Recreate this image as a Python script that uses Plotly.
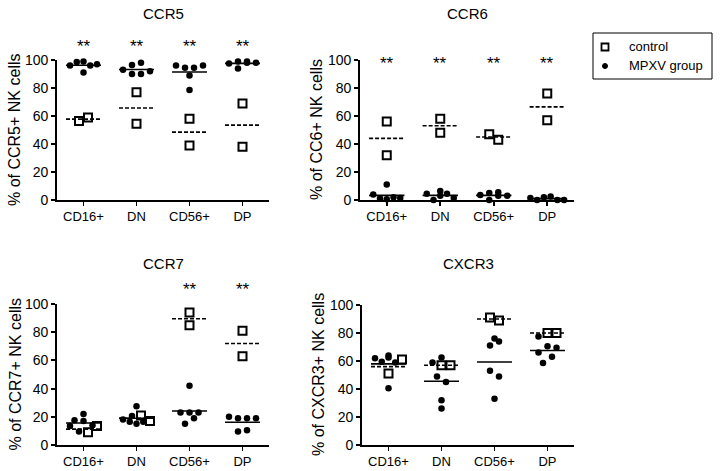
import plotly.graph_objects as go

W, H = 720, 471

# ---------------- data ----------------
categories = ["CD16+", "DN", "CD56+", "DP"]
y_tick_values = [0, 20, 40, 60, 80, 100]
panel_titles = ["CCR5", "CCR6", "CCR7", "CXCR3"]
y_titles = ["% of CCR5+ NK cells", "% of CC6+ NK cells",
            "% of CCR7+ NK cells", "% of CXCR3+ NK cells"]
legend_names = ["control", "MPXV group"]

ccr5_control = [[56.5, 59], [77, 54.5], [58, 39], [69, 38]]
ccr5_mpxv = [[96, 98.5, 99, 91, 96, 97], [96.5, 98, 93, 90, 90, 92],
             [96, 94.5, 94.5, 96, 89, 78.5], [97.5, 99, 94, 98, 99, 98]]

ccr6_control = [[56, 32], [58, 48], [47, 43], [76, 57]]
ccr6_mpxv = [[11, 4, 1, 0.5, 2, 1.5], [4.5, 0, 3, 6.5, 4.5, 1.5],
             [3.5, 5, 0, 5.5, 3, 3], [1.5, 0, 2, 2.5, 0, 0]]

ccr7_control = [[9, 13.5], [21, 17], [94, 85], [81, 63]]
ccr7_mpxv = [[17.5, 17, 22, 14, 13.5, 9.5], [27.5, 20.5, 18, 16.5, 15, 16.5],
             [42, 23, 23, 23, 15, 19], [20, 19, 19, 19, 9.5, 10.5]]

cxcr3_control = [[61, 51], [57, 57], [91, 89], [80, 80]]
cxcr3_mpxv = [[64, 62, 59.5, 62.5, 40.5, 59], [59, 62.5, 49, 45, 32, 26],
              [76, 71, 74, 53, 49, 33], [66, 70.5, 77.5, 58.5, 69.5, 63]]

ccr5_sig = ["**", "**", "**", "**"]
ccr6_sig = ["**", "**", "**", "**"]
ccr7_sig = ["", "", "**", "**"]
cxcr3_sig = ["", "", "", ""]

controls = [ccr5_control, ccr6_control, ccr7_control, cxcr3_control]
mpxvs = [ccr5_mpxv, ccr6_mpxv, ccr7_mpxv, cxcr3_mpxv]
sigs = [ccr5_sig, ccr6_sig, ccr7_sig, cxcr3_sig]

# ---------------- layout geometry (pixels) ----------------
# (x_left, x_right, y_top(=100), y_bottom(=0))
panels_px = [(57, 269, 60, 200), (360, 574, 60, 200),
             (57, 269, 304, 445), (362, 574, 305, 445)]
title_y_px = [14, 14, 263, 263]
ytitle_x_px = [15, 317, 15, 318]
star_y_px = [47, 64, 289, 289]

FONT = "Liberation Sans, Arial, sans-serif"


def px_x(x):
    return x / W


def px_y(y):
    return 1 - y / H


def swarm(groups, px_per_x, px_per_y, step_px=9.0, row_px=7.0):
    pts = []
    for g, vals in enumerate(groups):
        for k, v in enumerate(vals):
            pts.append((v, g, k))
    order = sorted(range(len(pts)), key=lambda i: pts[i][0])
    rows = []
    for i in order:
        if rows and (pts[i][0] - pts[rows[-1][0]][0]) * px_per_y < row_px:
            rows[-1].append(i)
        else:
            rows.append([i])
    offs = {}
    for row in rows:
        row = sorted(row)
        n = len(row)
        step = step_px if n <= 4 else step_px * 0.75
        for j, i in enumerate(row):
            offs[(pts[i][1], pts[i][2])] = (j - (n - 1) / 2) * step / px_per_x
    return [[offs[(g, k)] for k in range(len(vals))] for g, vals in enumerate(groups)]


fig = go.Figure()
annotations = []
shapes = []
HALF = 0.33

for p in range(4):
    xl, xr, yt, yb = panels_px[p]
    ax = "" if p == 0 else str(p + 1)
    px_per_x = (xr - xl) / 4.0
    px_per_y = (yb - yt) / 100.0

    cx, cy, mx, my = [], [], [], []
    lcx, lcy, lmx, lmy = [], [], [], []
    for i, cat in enumerate(categories):
        cvals = controls[p][i]
        mvals = mpxvs[p][i]
        offs = swarm([mvals, cvals], px_per_x, px_per_y)
        for v, o in zip(mvals, offs[0]):
            mx.append(i + o)
            my.append(v)
        for v, o in zip(cvals, offs[1]):
            cx.append(i + o)
            cy.append(v)
        cm = sum(cvals) / len(cvals)
        mm = sum(mvals) / len(mvals)
        lcx += [i - HALF, i + HALF, None]
        lcy += [cm, cm, None]
        lmx += [i - HALF, i + HALF, None]
        lmy += [mm, mm, None]

    fig.add_trace(go.Scatter(
        x=cx, y=cy, mode="markers", name=legend_names[0], showlegend=False,
        marker=dict(symbol="square-open", size=8, color="black",
                    line=dict(width=2, color="black")),
        cliponaxis=False, xaxis="x" + ax, yaxis="y" + ax))
    fig.add_trace(go.Scatter(
        x=mx, y=my, mode="markers", name=legend_names[1], showlegend=False,
        marker=dict(symbol="circle", size=6.5, color="black"),
        cliponaxis=False, xaxis="x" + ax, yaxis="y" + ax))
    fig.add_trace(go.Scatter(
        x=lcx, y=lcy, mode="lines", showlegend=False, hoverinfo="skip",
        line=dict(color="black", width=1.6, dash="4px,2px"),
        cliponaxis=False, xaxis="x" + ax, yaxis="y" + ax))
    fig.add_trace(go.Scatter(
        x=lmx, y=lmy, mode="lines", showlegend=False, hoverinfo="skip",
        line=dict(color="black", width=1.6),
        cliponaxis=False, xaxis="x" + ax, yaxis="y" + ax))

    axis_common = dict(showline=True, linecolor="black", linewidth=1.8,
                       ticks="outside", ticklen=4, tickwidth=1.8, tickcolor="black",
                       showgrid=False, zeroline=False, fixedrange=True,
                       automargin=False)
    fig.layout["xaxis" + ax] = dict(
        domain=[px_x(xl), px_x(xr)], range=[-0.5, 3.5], anchor="y" + ax,
        tickvals=[0, 1, 2, 3], ticktext=categories,
        tickfont=dict(family=FONT, size=13, color="black"), **axis_common)
    fig.layout["yaxis" + ax] = dict(
        domain=[px_y(yb), px_y(yt)], range=[0, 100], anchor="x" + ax,
        tickvals=y_tick_values,
        tickfont=dict(family=FONT, size=14, color="black"), **axis_common)

    annotations.append(dict(
        text=panel_titles[p], x=px_x((xl + xr) / 2), y=px_y(title_y_px[p]),
        xref="paper", yref="paper", showarrow=False, xanchor="center",
        yanchor="middle", font=dict(family=FONT, size=15, color="black")))
    annotations.append(dict(
        text=y_titles[p], x=px_x(ytitle_x_px[p]), y=px_y((yt + yb) / 2),
        xref="paper", yref="paper", showarrow=False, textangle=-90,
        xanchor="center", yanchor="middle",
        font=dict(family=FONT, size=16, color="black")))
    for i, s in enumerate(sigs[p]):
        if s:
            annotations.append(dict(
                text=s, x=i, xref="x" + ax, y=px_y(star_y_px[p]), yref="paper",
                showarrow=False, xanchor="center", yanchor="middle",
                font=dict(family=FONT, size=17, color="black")))

# ---------------- manual legend ----------------
LB = (593, 33, 712, 79)  # box left, top, right, bottom in px
shapes.append(dict(type="rect", xref="paper", yref="paper",
                   x0=px_x(LB[0]), x1=px_x(LB[2]), y0=px_y(LB[3]), y1=px_y(LB[1]),
                   line=dict(color="black", width=1), fillcolor="white"))
leg_rows_y = [47, 66]
leg_mx = 605
shapes.append(dict(type="rect", xref="paper", yref="paper",
                   x0=px_x(leg_mx - 3.5), x1=px_x(leg_mx + 3.5),
                   y0=px_y(leg_rows_y[0] + 3.5), y1=px_y(leg_rows_y[0] - 3.5),
                   line=dict(color="black", width=1.8)))
shapes.append(dict(type="circle", xref="paper", yref="paper",
                   x0=px_x(leg_mx - 2.5), x1=px_x(leg_mx + 2.5),
                   y0=px_y(leg_rows_y[1] + 2.5), y1=px_y(leg_rows_y[1] - 2.5),
                   line=dict(color="black", width=1), fillcolor="black"))
for name, yy in zip(legend_names, leg_rows_y):
    annotations.append(dict(
        text=name, x=px_x(627), y=px_y(yy), xref="paper", yref="paper",
        showarrow=False, xanchor="left", yanchor="middle",
        font=dict(family=FONT, size=13, color="black")))

fig.update_layout(
    width=W, height=H, autosize=False,
    margin=dict(l=0, r=0, t=0, b=0, pad=0, autoexpand=False),
    paper_bgcolor="white", plot_bgcolor="white",
    font=dict(family=FONT, color="black"),
    annotations=annotations, shapes=shapes,
    showlegend=False,
)

fig.write_html("out.html",
               config={"displayModeBar": False, "staticPlot": True},
               post_script="document.body.style.margin='0px';"
                           "document.body.style.overflow='hidden';")
